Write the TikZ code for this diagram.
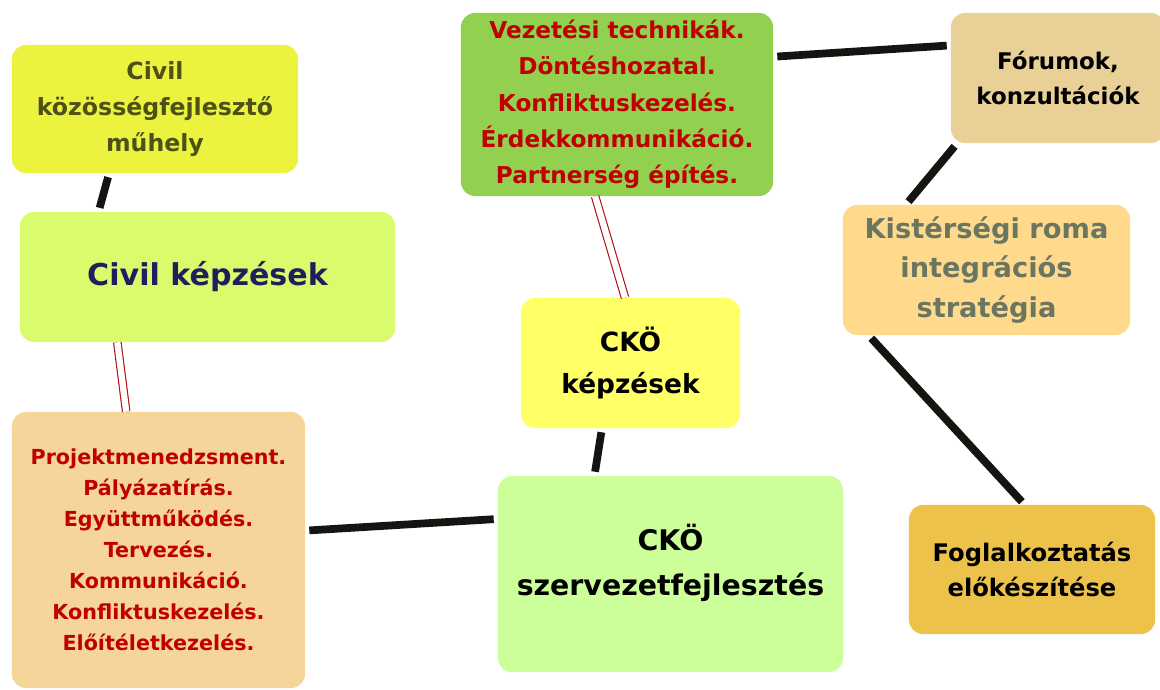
\documentclass[tikz,border=0pt]{standalone}
\usepackage{fontspec}
\setmainfont{DejaVu Sans}
\usetikzlibrary{calc}

\definecolor{muhelyfill}{HTML}{EBF33F}
\definecolor{muhelytext}{HTML}{4D5116}
\definecolor{civilfill}{HTML}{DAFB6B}
\definecolor{civiltext}{HTML}{1F1F5E}
\definecolor{vezetesfill}{HTML}{92D050}
\definecolor{forumfill}{HTML}{E8D096}
\definecolor{kisfill}{HTML}{FFD98C}
\definecolor{kistext}{HTML}{6B7661}
\definecolor{ckokfill}{HTML}{FFFF66}
\definecolor{szervfill}{HTML}{CCFF99}
\definecolor{projektfill}{HTML}{F5D599}
\definecolor{foglfill}{HTML}{EDC24B}
\definecolor{darkred}{HTML}{C00000}
\definecolor{linkblack}{HTML}{141410}
\definecolor{linkred}{HTML}{B01010}

\begin{document}
\begin{tikzpicture}[x=0.025cm, y=-0.025cm,
    box/.style={rounded corners=0.35cm, align=center, inner sep=0pt},
    link/.style={draw=linkblack, line width=5.5pt, shorten >=0.1cm, shorten <=0.1cm},
    redlink/.style={draw=linkred, line width=0.8pt, double=white, double distance=4.5pt}]

    % 1. Keret (1160 x 690 px)
    \path[use as bounding box, clip] (0,0) rectangle (1160,690);

    % 2. Dobozok
    \node[box, fill=muhelyfill, text=muhelytext, minimum width=7.15cm, minimum height=3.2cm,
          font=\bfseries\fontsize{16.8}{25.5}\selectfont] (muhely) at (155,109)
          {Civil\\közösségfejlesztő\\műhely};
    \node[box, fill=civilfill, text=civiltext, minimum width=9.375cm, minimum height=3.25cm,
          font=\bfseries\fontsize{21.4}{26}\selectfont] (civil) at (207.5,277)
          {Civil képzések};
    \node[box, fill=vezetesfill, text=darkred, minimum width=7.8cm, minimum height=4.575cm,
          font=\bfseries\fontsize{16.5}{25.8}\selectfont] (vezetes) at (617,104.5)
          {Vezetési technikák.\\Döntéshozatal.\\Konfliktuskezelés.\\Érdekkommunikáció.\\Partnerség építés.};
    \node[box, fill=forumfill, text=black, minimum width=5.35cm, minimum height=3.25cm,
          font=\bfseries\fontsize{16.3}{25}\selectfont] (forum) at (1058,78)
          {Fórumok,\\konzultációk};
    \node[box, fill=kisfill, text=kistext, minimum width=7.175cm, minimum height=3.25cm,
          font=\bfseries\fontsize{19.4}{28}\selectfont] (kis) at (986.5,270)
          {Kistérségi roma\\integrációs\\stratégia};
    \node[box, fill=ckokfill, text=black, minimum width=5.475cm, minimum height=3.25cm,
          font=\bfseries\fontsize{18.8}{30}\selectfont] (ckok) at (630.5,363)
          {CKÖ\\képzések};
    \node[box, fill=szervfill, text=black, minimum width=8.625cm, minimum height=4.9cm,
          font=\bfseries\fontsize{20.2}{32}\selectfont] (szerv) at (670.5,574)
          {CKÖ\\szervezetfejlesztés\\[-0.43cm]};
    \node[box, fill=projektfill, text=darkred, minimum width=7.325cm, minimum height=6.9cm,
          font=\bfseries\fontsize{14.7}{22}\selectfont] (projekt) at (158.5,550)
          {Projektmenedzsment.\\Pályázatírás.\\Együttműködés.\\Tervezés.\\Kommunikáció.\\Konfliktuskezelés.\\Előítéletkezelés.};
    \node[box, fill=foglfill, text=black, minimum width=6.15cm, minimum height=3.225cm,
          font=\bfseries\fontsize{17.2}{25}\selectfont] (fogl) at (1032,569.5)
          {Foglalkoztatás\\előkészítése};

    % 3. Kapcsolatok
    \draw[link] ($(muhely.south west)!0.34!(muhely.south east)$) -- ($(civil.north west)!0.21!(civil.north east)$);
    \draw[redlink] ($(civil.south west)!0.26!(civil.south east)$) -- ($(projekt.north west)!0.39!(projekt.north east)$);
    \draw[redlink] ($(vezetes.south west)!0.43!(vezetes.south east)$) -- ($(ckok.north west)!0.475!(ckok.north east)$);
    \draw[link] ($(ckok.south west)!0.37!(ckok.south east)$) -- ($(szerv.north west)!0.28!(szerv.north east)$);
    \draw[link] ($(projekt.north east)!0.43!(projekt.south east)$) -- ($(szerv.north west)!0.22!(szerv.south west)$);
    \draw[link] ($(vezetes.north east)!0.24!(vezetes.south east)$) -- ($(forum.north west)!0.25!(forum.south west)$);
    \draw[link] ($(forum.south west)!0.03!(forum.south east)$) -- ($(kis.north west)!0.22!(kis.north east)$);
    \draw[link] ($(kis.south west)!0.09!(kis.south east)$) -- ($(fogl.north west)!0.47!(fogl.north east)$);

\end{tikzpicture}
\end{document}
